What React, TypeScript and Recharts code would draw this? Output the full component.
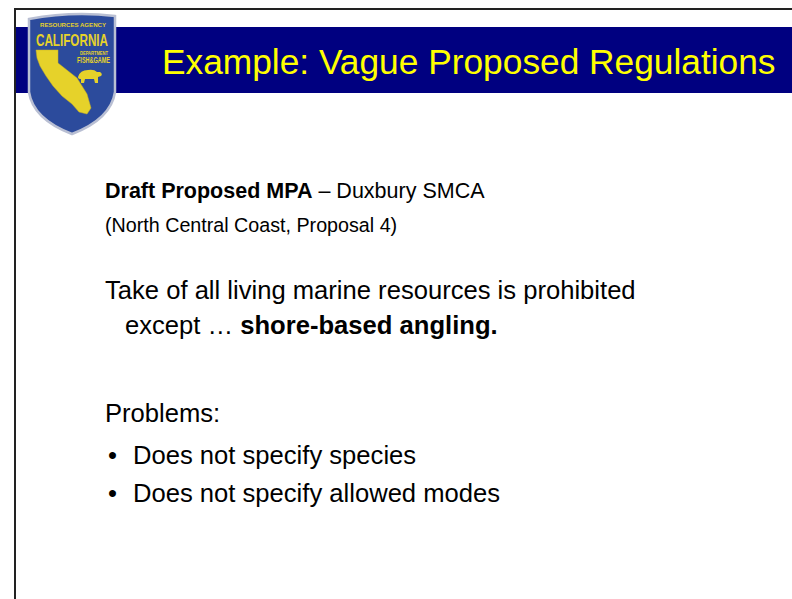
import React from 'react';
import { Surface, Layer, Rectangle, Polygon } from 'recharts';

const W = 792;
const H = 599;
const FONT = 'Liberation Sans, Arial, Helvetica, sans-serif';

const titleText = 'Example: Vague Proposed Regulations';
const sealTop = 'RESOURCES AGENCY';
const sealName = 'CALIFORNIA';
const sealDept = 'DEPARTMENT';
const sealFg = 'FISH&GAME';

// [bold part, regular part]
const mpaLine = ['Draft Proposed MPA', ' – Duxbury SMCA'];
const mpaSub = '(North Central Coast, Proposal 4)';
const takeLines = ['Take of all living marine resources is prohibited', 'except … '];
const takeBold = 'shore-based angling.';
const problemsLabel = 'Problems:';
const problems = ['Does not specify species', 'Does not specify allowed modes'];

// rough outline of the state inside the seal
const stateOutline = [
  { x: 36, y: 50 }, { x: 58, y: 50 }, { x: 58, y: 63 }, { x: 77, y: 78 },
  { x: 87, y: 94 }, { x: 91, y: 108 }, { x: 87, y: 114 }, { x: 79, y: 112 },
  { x: 72, y: 104 }, { x: 62, y: 96 }, { x: 53, y: 86 }, { x: 46, y: 76 },
  { x: 40, y: 66 }, { x: 37, y: 58 },
];

function Seal() {
  const gold = '#e6d22a';
  return (
    <Layer>
      <path
        d="M29,19 Q72,11 115,16 L115,92 Q111,119 72,134 Q33,119 29,92 Z"
        fill="#2c4b9c"
        stroke="#b9bfd3"
        strokeWidth={2.5}
      />
      <text x={40} y={27} fontFamily={FONT} fontSize={6} fontWeight="bold" fill={gold} textLength={66} lengthAdjust="spacingAndGlyphs">
        {sealTop}
      </text>
      <text
        x={36}
        y={46}
        fontFamily={FONT}
        fontSize={17}
        fontWeight="bold"
        fill={gold}
        textLength={72}
        lengthAdjust="spacingAndGlyphs"
      >
        {sealName}
      </text>
      <Polygon points={stateOutline} fill={gold} stroke="#c9b020" strokeWidth={0.5} />
      <text x={80} y={55} fontFamily={FONT} fontSize={5.5} fontWeight="bold" fill={gold} textLength={28} lengthAdjust="spacingAndGlyphs">
        {sealDept}
      </text>
      <text x={77} y={63} fontFamily={FONT} fontSize={8.5} fontWeight="bold" fill={gold} textLength={33} lengthAdjust="spacingAndGlyphs">
        {sealFg}
      </text>
      <path
        d="M78,77 Q80,70 88,70 Q94,69 97,72 L100,72 Q103,74 101,76 L98,77 L98,83 L95,83 L94,79 L85,79 L84,83 L81,83 L81,79 Q78,79 78,77 Z"
        fill={gold}
      />
    </Layer>
  );
}

export default function App() {
  const body = 25.6;
  const lead = 21.5;
  const sub = 19.7;
  return (
    <div style={{ position: 'absolute', left: 0, top: 0, width: W, height: H, background: '#fff' }}>
      <Surface width={W} height={H} viewBox={{ x: 0, y: 0, width: W, height: H }}>
        <Rectangle x={0} y={0} width={W} height={H} fill="#ffffff" />
        <Rectangle x={14} y={27} width={W - 14} height={66} fill="#000080" />
        <Rectangle x={14} y={8} width={W - 14} height={2} fill="#222" />
        <Rectangle x={14} y={8} width={2} height={H - 8} fill="#222" />
        <Seal />
        <text x={162} y={74} fontFamily={FONT} fontSize={35.3} fill="#ffff00">
          {titleText}
        </text>

        <text x={105} y={198} fontFamily={FONT} fontSize={lead} fill="#000">
          <tspan fontWeight="bold">{mpaLine[0]}</tspan>
          <tspan>{mpaLine[1]}</tspan>
        </text>
        <text x={105} y={232} fontFamily={FONT} fontSize={sub} fill="#000">
          {mpaSub}
        </text>

        <text x={105} y={299} fontFamily={FONT} fontSize={body} fill="#000">
          {takeLines[0]}
        </text>
        <text x={125} y={334} fontFamily={FONT} fontSize={body} fill="#000">
          <tspan>{takeLines[1]}</tspan>
          <tspan fontWeight="bold">{takeBold}</tspan>
        </text>

        <text x={105} y={422} fontFamily={FONT} fontSize={body} fill="#000">
          {problemsLabel}
        </text>
        {problems.map((p, i) => (
          <text key={p} x={108} y={464 + i * 38} fontFamily={FONT} fontSize={body} fill="#000">
            <tspan>•</tspan>
            <tspan x={133}>{p}</tspan>
          </text>
        ))}
      </Surface>
    </div>
  );
}
